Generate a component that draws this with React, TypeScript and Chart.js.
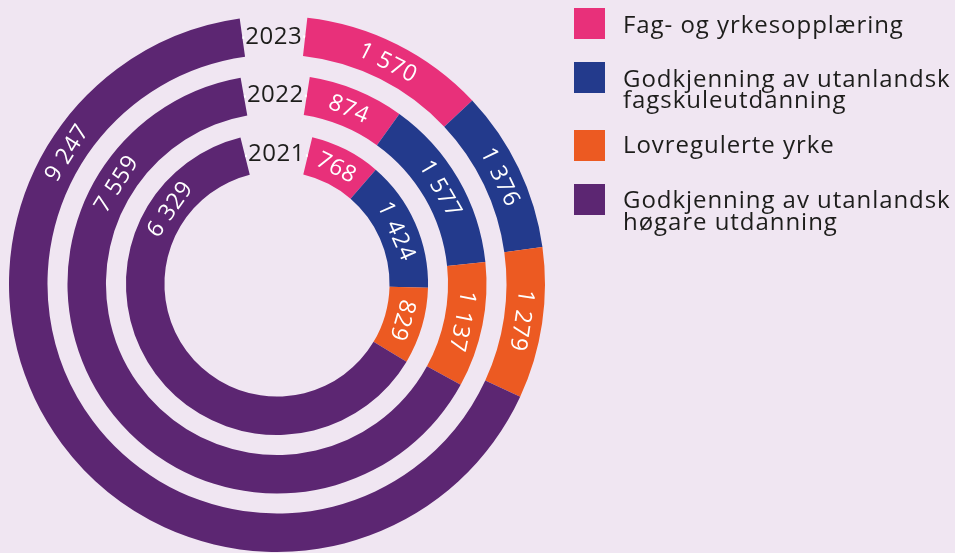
import React, { useEffect, useRef } from 'react';
import { Chart, DoughnutController, registerables } from 'chart.js';

Chart.register(...registerables);

// ---------- data ----------
const categories = [
  'Fag- og yrkesopplæring',
  'Godkjenning av utanlandsk fagskuleutdanning',
  'Lovregulerte yrke',
  'Godkjenning av utanlandsk høgare utdanning',
];
const legendLines = [
  ['Fag- og yrkesopplæring'],
  ['Godkjenning av utanlandsk', 'fagskuleutdanning'],
  ['Lovregulerte yrke'],
  ['Godkjenning av utanlandsk', 'høgare utdanning'],
];
const years = ['2023', '2022', '2021'];
const values2023 = [1570, 1376, 1279, 9247];
const values2022 = [874, 1577, 1137, 7559];
const values2021 = [768, 1424, 829, 6329];

// ---------- style / layout ----------
const BG = '#F0E6F2';
const COLORS = ['#E8307A', '#233A8C', '#EC5A22', '#5C2672'];
const TEXT = '#1d1d1b';
const FONT = '"Open Sans", "Noto Sans", sans-serif';
// per ring (outer -> inner): start angle (deg from top, clockwise) and sweep
const RING_ROTATION = [6.5, 9, 13.5];
const RING_CIRCUMFERENCE = [345.5, 341, 332.5];
const RING_WEIGHT = 38.5;
const GAP_WEIGHT = 20;
// angle (deg from top) where the label of the last (large) segment sits
const LAST_LABEL_ANGLE = [302, 302, 305];

class RingsController extends DoughnutController {
  static id = 'rings';
  static defaults = DoughnutController.defaults;
  static overrides = DoughnutController.overrides;
  updateElements(arcs: any, start: number, count: number, mode: any) {
    (this as any).offsetX = 0;
    (this as any).offsetY = 0;
    super.updateElements(arcs, start, count, mode);
  }
}
Chart.register(RingsController);

const fmt = (v: number) => {
  const s = String(v);
  return s.length > 3 ? s.slice(0, s.length - 3) + ' ' + s.slice(-3) : s;
};

const labelPlugin = {
  id: 'ringLabels',
  afterDatasetsDraw(chart: any) {
    const ctx = chart.ctx as CanvasRenderingContext2D;
    const yearSets = [0, 2, 4];
    yearSets.forEach((dsIndex, ring) => {
      const meta = chart.getDatasetMeta(dsIndex);
      const arcs = meta.data;
      if (!arcs.length) return;
      const first = arcs[0];
      const last = arcs[arcs.length - 1];
      const cx = first.x;
      const cy = first.y;
      const rMid = (first.innerRadius + first.outerRadius) / 2;
      // white track across the gap
      ctx.save();
      ctx.strokeStyle = '#ffffff';
      ctx.lineWidth = 2.5;
      ctx.beginPath();
      ctx.arc(cx, cy, rMid, last.endAngle, first.startAngle + Math.PI * 2);
      ctx.stroke();
      ctx.restore();
      // year label
      const gapMid = (last.endAngle + first.startAngle + Math.PI * 2) / 2;
      const yx = cx + rMid * Math.cos(gapMid);
      const yy = cy + rMid * Math.sin(gapMid);
      ctx.save();
      ctx.font = `24px ${FONT}`;
      (ctx as any).letterSpacing = '0.5px';
      const w = ctx.measureText(years[ring]).width;
      ctx.fillStyle = BG;
      ctx.fillRect(yx - w / 2 - 1, yy - 6, w + 2, 12);
      ctx.fillStyle = TEXT;
      ctx.textAlign = 'center';
      ctx.textBaseline = 'alphabetic';
      ctx.fillText(years[ring], yx, yy + 8.6);
      ctx.restore();
      // value labels
      const vals = chart.data.datasets[dsIndex].data as number[];
      arcs.forEach((arc: any, i: number) => {
        let a = (arc.startAngle + arc.endAngle) / 2;
        if (i === arcs.length - 1) a = ((LAST_LABEL_ANGLE[ring] - 90) * Math.PI) / 180;
        const r = (arc.innerRadius + arc.outerRadius) / 2;
        ctx.save();
        ctx.translate(cx + r * Math.cos(a), cy + r * Math.sin(a));
        ctx.rotate(a + Math.PI / 2);
        ctx.font = `23px ${FONT}`;
        (ctx as any).letterSpacing = '0.8px';
        ctx.fillStyle = '#ffffff';
        ctx.textAlign = 'center';
        ctx.textBaseline = 'alphabetic';
        ctx.fillText(fmt(vals[i]), 0, 8.3);
        ctx.restore();
      });
    });
  },
};

export default function App() {
  const ref = useRef<HTMLCanvasElement>(null);
  useEffect(() => {
    if (!ref.current) return;
    const ringData = [values2023, values2022, values2021];
    const datasets: any[] = [];
    ringData.forEach((vals, i) => {
      datasets.push({
        label: years[i],
        data: vals,
        backgroundColor: COLORS,
        borderWidth: 0,
        weight: RING_WEIGHT,
        rotation: RING_ROTATION[i],
        circumference: RING_CIRCUMFERENCE[i],
      });
      if (i < ringData.length - 1) {
        datasets.push({
          label: 'gap',
          data: [1],
          backgroundColor: 'rgba(0,0,0,0)',
          borderWidth: 0,
          weight: GAP_WEIGHT,
        });
      }
    });
    const chart = new Chart(ref.current, {
      type: 'rings' as any,
      data: { labels: categories, datasets },
      options: {
        responsive: false,
        animation: false,
        devicePixelRatio: 1,
        events: [],
        cutout: '42%',
        layout: { padding: { left: 9, top: 16, right: 410, bottom: 1 } },
        plugins: { legend: { display: false }, tooltip: { enabled: false } },
      } as any,
      plugins: [labelPlugin],
    });
    return () => chart.destroy();
  }, []);

  const fs = 24;
  const ascent = 1.069 * fs;
  const lh = 1.362 * fs;
  const squareTops = [8, 62, 130, 184];
  const baselines = [[33.3], [87.3, 108.6], [154], [208.3, 230.3]];

  return (
    <div style={{ position: 'fixed', left: 0, top: 0, width: 955, height: 553, background: BG, overflow: 'hidden' }}>
      <canvas ref={ref} width={955} height={553} style={{ position: 'absolute', left: 0, top: 0, width: 955, height: 553 }} />
      {legendLines.map((lines, i) => (
        <React.Fragment key={i}>
          <div style={{ position: 'absolute', left: 574, top: squareTops[i], width: 31, height: 31, background: COLORS[i] }} />
          {lines.map((t, j) => (
            <div
              key={j}
              style={{
                position: 'absolute',
                left: 623,
                top: baselines[i][j] - ascent,
                fontFamily: FONT,
                fontSize: fs,
                lineHeight: `${lh}px`,
                letterSpacing: '0.95px',
                color: TEXT,
                whiteSpace: 'nowrap',
              }}
            >
              {t}
            </div>
          ))}
        </React.Fragment>
      ))}
    </div>
  );
}
